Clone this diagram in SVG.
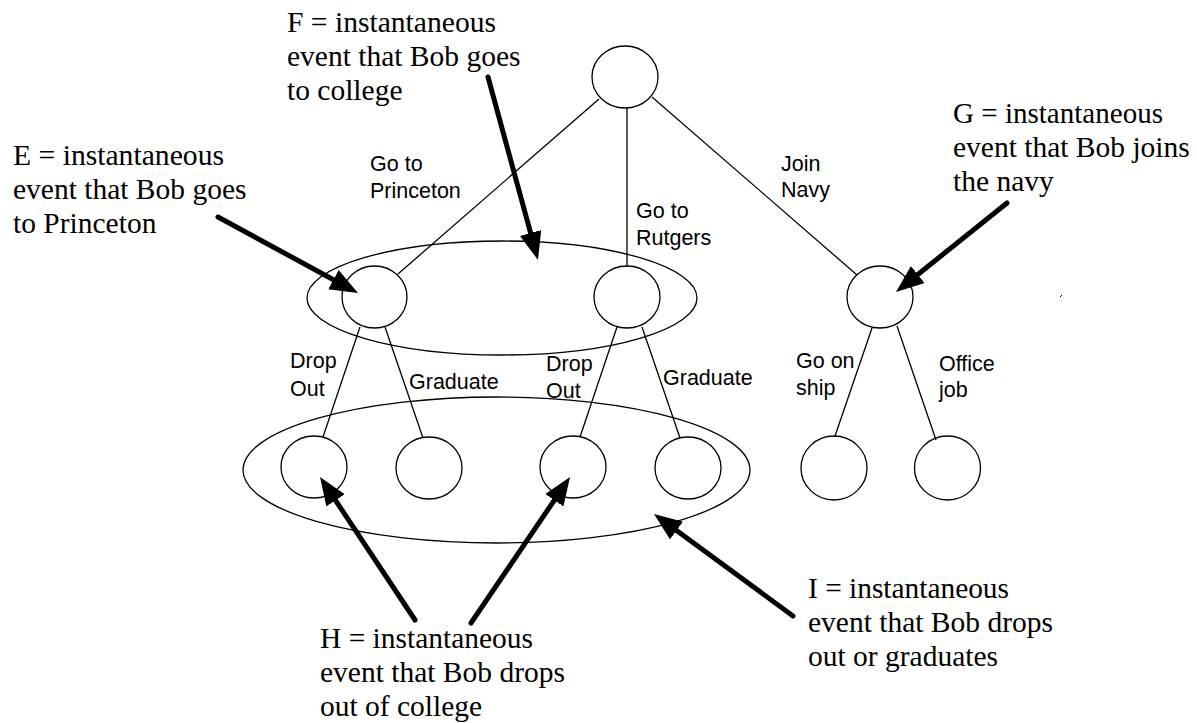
<svg xmlns="http://www.w3.org/2000/svg" width="1197" height="723" viewBox="0 0 1197 723">
<style>
.n{fill:none;stroke:#000;stroke-width:1.3}
.e{fill:none;stroke:#000;stroke-width:1.3}
.c{stroke:#000;stroke-width:1.3;fill:none}
.a{stroke:#000;stroke-width:5;fill:none;stroke-linecap:round;marker-end:url(#ah)}
.lab{font-family:"Liberation Sans",Arial,sans-serif;font-size:21.5px;fill:#000}
.ann{font-family:"Liberation Serif","Times New Roman",serif;font-size:29.5px;fill:#000}
</style>
<defs>
<marker id="ah" markerUnits="userSpaceOnUse" markerWidth="30" markerHeight="24" refX="8" refY="11" orient="auto" viewBox="0 0 30 24">
<path d="M0,0 L28,11 L0,22 Z" fill="#000"/>
</marker>
</defs>
<rect width="1197" height="723" fill="#fff"/>

<g id="set-F"><ellipse class="e" cx="502" cy="298" rx="195" ry="57"/></g>
<g id="set-I"><ellipse class="e" cx="496.5" cy="470" rx="253.5" ry="73"/></g>

<g id="connectors">
<line class="c" x1="599" y1="99" x2="398" y2="274"/>
<line class="c" x1="627" y1="108" x2="627" y2="266"/>
<line class="c" x1="652" y1="97" x2="857" y2="275"/>
<line class="c" x1="360" y1="327" x2="323" y2="437"/>
<line class="c" x1="385" y1="327" x2="423" y2="438"/>
<line class="c" x1="617" y1="327" x2="580" y2="437"/>
<line class="c" x1="642" y1="327" x2="680" y2="438"/>
<line class="c" x1="872" y1="328" x2="835" y2="436"/>
<line class="c" x1="897" y1="326" x2="936" y2="440"/>
</g>

<g id="root"><ellipse class="n" cx="625" cy="77" rx="33" ry="31"/></g>
<g id="princeton"><ellipse class="n" cx="374.5" cy="297" rx="32.5" ry="31"/></g>
<g id="rutgers"><ellipse class="n" cx="627" cy="297" rx="33" ry="31"/></g>
<g id="navy"><ellipse class="n" cx="880" cy="297" rx="33" ry="31"/></g>
<g id="p-drop"><ellipse class="n" cx="314" cy="467" rx="33" ry="31"/></g>
<g id="p-grad"><ellipse class="n" cx="429" cy="468" rx="33" ry="31"/></g>
<g id="r-drop"><ellipse class="n" cx="573" cy="467" rx="33" ry="31"/></g>
<g id="r-grad"><ellipse class="n" cx="688" cy="468" rx="33" ry="31"/></g>
<g id="n-ship"><ellipse class="n" cx="834" cy="468" rx="33" ry="32"/></g>
<g id="n-office"><ellipse class="n" cx="947.5" cy="468" rx="33" ry="32"/></g>

<g id="edge-labels">
<text class="lab" x="370" y="171">Go to</text>
<text class="lab" x="370" y="198">Princeton</text>
<text class="lab" x="636" y="218">Go to</text>
<text class="lab" x="636" y="245">Rutgers</text>
<text class="lab" x="781" y="171">Join</text>
<text class="lab" x="781" y="197">Navy</text>
<text class="lab" x="290" y="368">Drop</text>
<text class="lab" x="290" y="396">Out</text>
<text class="lab" x="409" y="389">Graduate</text>
<text class="lab" x="546" y="371">Drop</text>
<text class="lab" x="546" y="398">Out</text>
<text class="lab" x="663" y="385">Graduate</text>
<text class="lab" x="796" y="368">Go on</text>
<text class="lab" x="796" y="395">ship</text>
<text class="lab" x="939" y="371">Office</text>
<text class="lab" x="939" y="397">job</text>
</g>

<g id="arrows">
<path class="a" d="M218,217 L340.4,283.5"/>
<path class="a" d="M488,77 L532.7,240.7"/>
<path class="a" d="M1007,203 L911.6,279.5"/>
<path class="a" d="M415,620 L331.1,493.7"/>
<path class="a" d="M471,623 L558.8,493.6"/>
<path class="a" d="M793,616 L670.1,525.8"/>
</g>

<g id="note-E">
<text class="ann" x="13" y="165" textLength="211" lengthAdjust="spacingAndGlyphs">E = instantaneous</text>
<text class="ann" x="13" y="199">event that Bob goes</text>
<text class="ann" x="13" y="233">to Princeton</text>
</g>
<g id="note-F">
<text class="ann" x="287" y="32" textLength="209" lengthAdjust="spacingAndGlyphs">F = instantaneous</text>
<text class="ann" x="287" y="66">event that Bob goes</text>
<text class="ann" x="287" y="100">to college</text>
</g>
<g id="note-G">
<text class="ann" x="953" y="123" textLength="210" lengthAdjust="spacingAndGlyphs">G = instantaneous</text>
<text class="ann" x="953" y="157">event that Bob joins</text>
<text class="ann" x="953" y="191">the navy</text>
</g>
<g id="note-H">
<text class="ann" x="320" y="648" textLength="213" lengthAdjust="spacingAndGlyphs">H = instantaneous</text>
<text class="ann" x="320" y="682">event that Bob drops</text>
<text class="ann" x="320" y="716">out of college</text>
</g>
<g id="note-I">
<text class="ann" x="808" y="598" textLength="201" lengthAdjust="spacingAndGlyphs">I = instantaneous</text>
<text class="ann" x="808" y="632">event that Bob drops</text>
<text class="ann" x="808" y="666">out or graduates</text>
</g>

<line x1="1060" y1="297" x2="1062" y2="295" stroke="#000" stroke-width="1"/>
</svg>
